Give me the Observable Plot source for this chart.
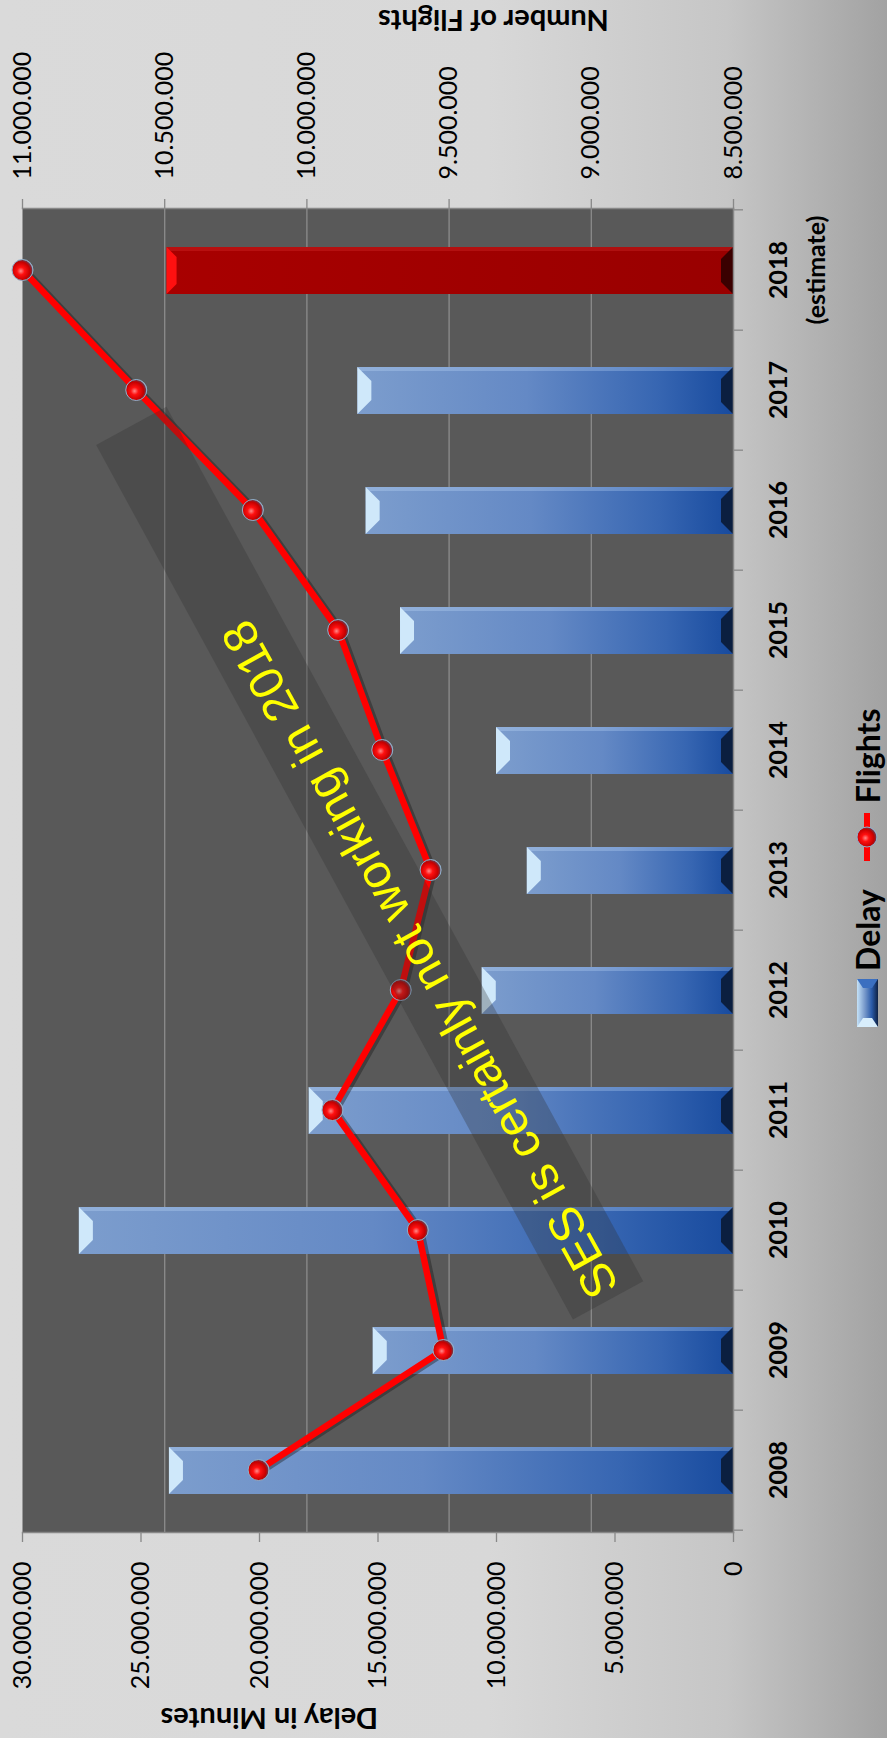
<!DOCTYPE html>
<html><head><meta charset="utf-8">
<script src="https://cdn.jsdelivr.net/npm/d3@7"></script>
<script src="https://cdn.jsdelivr.net/npm/@observablehq/plot@0.6"></script>
<style>
html,body{margin:0;padding:0;width:887px;height:1738px;overflow:hidden;background:#d9d9d9;}
#chart{position:absolute;left:0;top:0;width:1738px;height:887px;transform-origin:0 0;
  transform:translateY(1738px) rotate(-90deg);
  background:linear-gradient(to bottom,#dadada 0%,#d8d8d8 55%,#c6c6c6 82%,#a2a2a2 100%);
  font-family:Lato,sans-serif;overflow:hidden;}
#chart svg{position:absolute;left:0;top:0;}
#legend{position:absolute;left:711px;top:849px;height:36px;display:flex;align-items:center;
  font:bold 32px Lato,sans-serif;color:#000;}
#legend svg{position:static;display:block;}
</style></head><body><div id="chart"></div><script>
// ---- data ----
const years = ["2008","2009","2010","2011","2012","2013","2014","2015","2016","2017","2018"];
const delayMinutes = [23.8e6, 15.2e6, 27.6e6, 17.9e6, 10.6e6, 8.7e6, 10.0e6, 14.05e6, 15.5e6, 15.85e6, 23.9e6];
const flightsCount = [10.17e6, 9.52e6, 9.61e6, 9.91e6, 9.67e6, 9.565e6, 9.735e6, 9.89e6, 10.19e6, 10.6e6, 11.0e6];
const delayTicks = [0, 5e6, 10e6, 15e6, 20e6, 25e6, 30e6];
const flightTicks = [8.5e6, 9e6, 9.5e6, 10e6, 10.5e6, 11e6];
const flightGrid = [9e6, 9.5e6, 10e6, 10.5e6];
const estimateYear = "2018";
const estimateNote = "(estimate)";
const delayTitle = "Delay in Minutes";
const flightsTitle = "Number of Flights";
const annotation = "SES is certainly not working in 2018";
const legendLabels = ["Delay", "Flights"];

const rows = years.map((year, i) => ({year, delay: delayMinutes[i], flights: flightsCount[i], estimate: year === estimateYear}));

// ---- layout (original landscape chart; page rotates it) ----
const W = 1738, H = 887;
const M = {marginLeft: 205, marginRight: 209, marginTop: 22, marginBottom: 154};
const step = (W - M.marginLeft - M.marginRight) / years.length;
const xScale = {type: "band", domain: years, paddingInner: 0.61, paddingOuter: 0.305};
const fmt = d => d3.format(",")(d).replace(/,/g, ".");
const common = {width: W, height: H, ...M, style: {background: "transparent", overflow: "visible", fontFamily: "Lato, sans-serif"}};

const defs = () => d3.create("svg:defs").html(`
  <linearGradient id="blueBar" x1="0" y1="0" x2="0" y2="1">
    <stop offset="0" stop-color="#7c9dcd"/><stop offset="0.45" stop-color="#6489c5"/>
    <stop offset="0.8" stop-color="#3766b2"/><stop offset="1" stop-color="#174a9e"/>
  </linearGradient>
  <linearGradient id="redBar" x1="0" y1="0" x2="0" y2="1">
    <stop offset="0" stop-color="#a80000"/><stop offset="1" stop-color="#990000"/>
  </linearGradient>
  <radialGradient id="ball" cx="0.45" cy="0.42" r="0.6">
    <stop offset="0" stop-color="#ff8a8a"/><stop offset="0.3" stop-color="#ff1010"/>
    <stop offset="0.72" stop-color="#c40000"/><stop offset="0.88" stop-color="#7a3040"/>
    <stop offset="1" stop-color="#a8c6de"/>
  </radialGradient>
  <linearGradient id="legendBar" x1="0" y1="0" x2="0" y2="1">
    <stop offset="0" stop-color="#c4e2f8"/><stop offset="0.35" stop-color="#7c9dcd"/>
    <stop offset="0.7" stop-color="#2a5aa8"/><stop offset="1" stop-color="#0e2144"/>
  </linearGradient>`).node();

// Layer A: plot area, grid, flights axis
const layerA = Plot.plot({
  ...common,
  x: {...xScale, axis: null},
  y: {domain: [8.5e6, 11e6], axis: null},
  marks: [
    defs,
    Plot.frame({fill: "#595959", stroke: null}),
    Plot.gridY(flightGrid, {stroke: "#8c8c8c", strokeOpacity: 1, strokeWidth: 1.3}),
    Plot.axisY(flightTicks, {anchor: "right", tickSize: 9, tickPadding: 20, tickFormat: fmt,
      fontSize: 25, stroke: "#888", strokeWidth: 1.3, fill: "#000", label: null}),
    Plot.text([flightsTitle], {text: d => d, frameAnchor: "right", dx: 189, rotate: -90,
      fontSize: 29, fontWeight: "bold", fill: "#000"})
  ]
});

// Layer B: delay bars, delay axis, year axis
const layerB = Plot.plot({
  ...common,
  x: {...xScale, axis: null},
  y: {domain: [0, 30e6], axis: null},
  marks: [
    Plot.barY(rows.filter(d => !d.estimate), {x: "year", y: "delay", fill: "url(#blueBar)"}),
    Plot.barY(rows.filter(d => d.estimate), {x: "year", y: "delay", fill: "url(#redBar)"}),
    Plot.frame({anchor: "left", stroke: "#888", strokeWidth: 1.5}),
    Plot.frame({anchor: "bottom", stroke: "#888", strokeWidth: 1.5}),
    Plot.frame({anchor: "right", stroke: "#888", strokeWidth: 1.5}),
    Plot.axisY(delayTicks, {anchor: "left", tickSize: 9, tickPadding: 20, tickFormat: fmt,
      fontSize: 25, stroke: "#888", strokeWidth: 1.3, fill: "#000", label: null}),
    Plot.axisX({anchor: "bottom", tickSize: 10, tickFormat: () => "", dx: -step / 2, stroke: "#888", strokeWidth: 1.3, label: null}),
    Plot.axisX([years[years.length - 1]], {anchor: "bottom", tickSize: 10, tickFormat: () => "", dx: step / 2, stroke: "#888", strokeWidth: 1.3, label: null}),
    Plot.text(years, {x: d => d, frameAnchor: "bottom", dy: 27, lineAnchor: "top", lineHeight: 1.5,
      text: d => d === estimateYear ? d + "\n" + estimateNote : d,
      fontSize: 25, fontWeight: "bold", fill: "#000"}),
    Plot.text([delayTitle], {text: d => d, frameAnchor: "left", dx: -185, rotate: -90,
      fontSize: 29, fontWeight: "bold", fill: "#000"})
  ]
});

// bevels on the bars, from the rectangles Plot drew
d3.select(layerB).selectAll('g[aria-label="bar"] rect').each(function () {
  const r = d3.select(this), g = d3.select(this.parentNode);
  const red = (this.parentNode.getAttribute("fill") || "").includes("red");
  const x = +r.attr("x"), y = +r.attr("y"), w = +r.attr("width"), h = +r.attr("height");
  const d1 = red ? 10 : 14, d2 = 12;
  g.append("rect").attr("x", x + w - 4).attr("y", y).attr("width", 4).attr("height", h)
    .attr("fill", red ? "rgba(255,80,80,0.2)" : "rgba(200,225,255,0.28)");
  g.append("polygon").attr("points", `${x},${y} ${x + w},${y} ${x + w - d1},${y + d1} ${x + d1},${y + d1}`)
    .attr("fill", red ? "#ff1010" : "#cfe8fa");
  g.append("polygon").attr("points", `${x},${y + h} ${x + w},${y + h} ${x + w - d2},${y + h - d2} ${x + d2},${y + h - d2}`)
    .attr("fill", red ? "#3a0000" : "#0b1f40");
});

// Layer C: flights line, annotation
const layerC = Plot.plot({
  ...common,
  x: {...xScale, axis: null},
  y: {domain: [8.5e6, 11e6], axis: null},
  marks: [
    Plot.line(rows, {x: "year", y: "flights", stroke: "#1a1a1a", strokeOpacity: 0.4, strokeWidth: 7, dx: -1, dy: 3}),
    Plot.line(rows, {x: "year", y: "flights", stroke: "#ff0000", strokeWidth: 6.5}),
    Plot.dot(rows, {x: "year", y: "flights", r: 10.5, fill: "url(#ball)", stroke: "#8fb0cc", strokeWidth: 1}),
    (index, scales, values, dims) => {
      const fw = dims.width - dims.marginLeft - dims.marginRight;
      const fh = dims.height - dims.marginTop - dims.marginBottom;
      const cx = dims.marginLeft + 0.506 * fw, cy = dims.marginTop + 0.489 * fh;
      const g = d3.create("svg:g").attr("transform", `translate(${cx},${cy}) rotate(-28.6)`);
      g.append("rect").attr("x", -498).attr("y", -40).attr("width", 996).attr("height", 80)
        .attr("fill", "#2e2e2e").attr("fill-opacity", 0.3);
      return g.node();
    },
    Plot.text([annotation], {x: () => "2012", y: () => 9.6e6, dx: 31, text: d => d, rotate: -29,
      fontSize: 48, fontFamily: "Liberation Sans, Arial, sans-serif", fill: "#ffff00"})
  ]
});

const chart = document.getElementById("chart");
chart.append(layerA, layerB, layerC);

// legend
const legend = document.createElement("div");
legend.id = "legend";
legend.innerHTML = `
  <svg width="48" height="21" viewBox="0 0 48 21">
    <rect x="0" y="0" width="48" height="21" fill="url(#legendBar)"/>
    <polygon points="0,0 9,6 9,15 0,21" fill="#d8eefc"/>
    <polygon points="48,0 39,6 39,15 48,21" fill="#3b6fc0"/>
  </svg>
  <span style="margin-left:8px">${legendLabels[0]}</span>
  <svg width="48" height="24" viewBox="0 0 48 24" style="margin-left:28px">
    <line x1="0" y1="12" x2="48" y2="12" stroke="#ff0000" stroke-width="6"/>
    <circle cx="24" cy="12" r="10" fill="url(#ball)" stroke="#8fb0cc" stroke-width="1"/>
  </svg>
  <span style="margin-left:10px">${legendLabels[1]}</span>`;
chart.append(legend);
</script></body></html>
